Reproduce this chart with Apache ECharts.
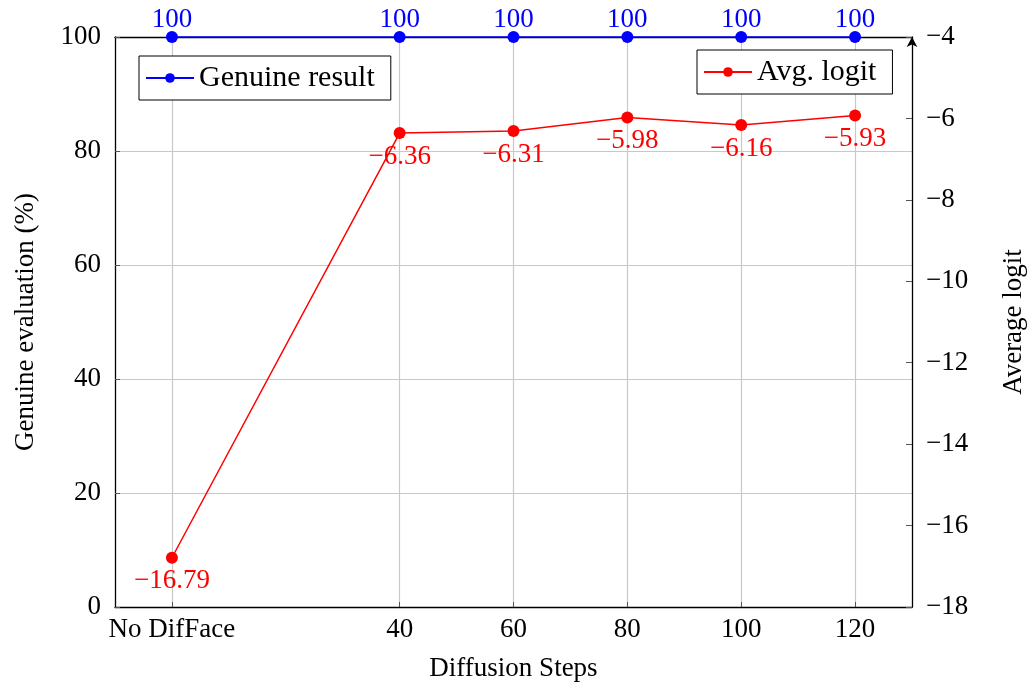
<!DOCTYPE html>
<html>
<head>
<meta charset="utf-8">
<script src="https://cdn.jsdelivr.net/npm/echarts@6/dist/echarts.min.js"></script>
<style>
  html, body { margin: 0; padding: 0; background: #fff; }
  #chart { width: 1032px; height: 686px; }
</style>
</head>
<body>
<div id="chart"></div>
<script>
const FONT = "Liberation Serif";

const steps = [0, 40, 60, 80, 100, 120];
const stepLabels = ["No DifFace", "40", "60", "80", "100", "120"];
const genuine = [100, 100, 100, 100, 100, 100];
const avgLogit = [-16.79, -6.36, -6.31, -5.98, -6.16, -5.93];

const minus = (v) => String(v).replace("-", "\u2212");

const option = {
  animation: false,
  textStyle: { fontFamily: FONT },
  grid: { left: 115, right: 120, top: 37, bottom: 79, outerBoundsMode: "none", containLabel: false },
  legend: [
    {
      data: ["Genuine result"],
      left: 139, top: 56,
      itemWidth: 48, itemHeight: 12, itemGap: 8,
      padding: [7, 16, 7, 6],
      borderColor: "#000", borderWidth: 1, backgroundColor: "#fff",
      textStyle: { fontFamily: FONT, fontSize: 30, color: "#000" },
    },
    {
      data: ["Avg. logit"],
      left: 697, top: 50,
      itemWidth: 48, itemHeight: 12,
      padding: [7, 16, 7, 6],
      borderColor: "#000", borderWidth: 1, backgroundColor: "#fff",
      textStyle: { fontFamily: FONT, fontSize: 30, color: "#000" },
    },
  ],
  xAxis: [
    {
      type: "value",
      min: -10, max: 130,
      name: "Diffusion Steps",
      nameLocation: "middle",
      nameGap: 48,
      nameTextStyle: { fontFamily: FONT, fontSize: 27, color: "#000" },
      axisLine: { onZero: false, lineStyle: { color: "#000", width: 1.3 } },
      axisTick: { customValues: steps, inside: true, length: 5, lineStyle: { color: "#555" } },
      axisLabel: {
        customValues: steps,
        margin: 9,
        fontFamily: FONT, fontSize: 27, color: "#000",
        formatter: (v) => stepLabels[steps.indexOf(v)],
      },
      splitLine: { show: true, lineStyle: { color: "#c8c8c8", width: 1.2 } },
    },
    {
      type: "value",
      position: "top",
      min: -10, max: 130,
      axisLine: { onZero: false, lineStyle: { color: "#000", width: 1.3 } },
      axisTick: { show: false },
      axisLabel: { show: false },
      splitLine: { show: false },
    },
  ],
  yAxis: [
    {
      type: "value",
      min: 0, max: 100, interval: 20,
      name: "Genuine evaluation (%)",
      nameLocation: "middle",
      nameGap: 76,
      nameTextStyle: { fontFamily: FONT, fontSize: 27, color: "#000" },
      axisLine: { show: true, onZero: false, lineStyle: { color: "#000", width: 1.3 } },
      axisTick: { show: true, inside: true, length: 5, lineStyle: { color: "#555" } },
      axisLabel: { fontFamily: FONT, fontSize: 27, color: "#000", margin: 14 },
      splitLine: { show: true, lineStyle: { color: "#c8c8c8", width: 1.2 } },
    },
    {
      type: "value",
      position: "right",
      min: -18, max: -4, interval: 2,
      name: "Average logit",
      nameLocation: "middle",
      nameGap: 88,
      nameRotate: 90,
      nameTextStyle: { fontFamily: FONT, fontSize: 27, color: "#000" },
      axisLine: {
        show: true,
        onZero: false,
        symbol: ["none", "arrow"],
        symbolSize: [8, 10],
        lineStyle: { color: "#000", width: 1.3 },
      },
      axisTick: { show: true, inside: true, length: 6, lineStyle: { color: "#555" } },
      axisLabel: {
        fontFamily: FONT, fontSize: 27, color: "#000", margin: 14,
        formatter: (v) => minus(v),
      },
      splitLine: { show: false },
    },
  ],
  series: [
    {
      name: "Genuine result",
      type: "line",
      xAxisIndex: 0,
      yAxisIndex: 0,
      clip: false,
      data: steps.map((s, i) => [s, genuine[i]]),
      symbol: "circle",
      symbolSize: 12,
      color: "#0000ff",
      lineStyle: { color: "#0000ff", width: 1.5 },
      label: {
        show: true,
        position: "top",
        distance: 0,
        offset: [0, 2],
        fontFamily: FONT, fontSize: 27, color: "#0000ff",
        formatter: (p) => String(p.value[1]),
      },
      z: 5,
    },
    {
      name: "Avg. logit",
      type: "line",
      xAxisIndex: 0,
      yAxisIndex: 1,
      clip: false,
      data: steps.map((s, i) => [s, avgLogit[i]]),
      symbol: "circle",
      symbolSize: 12,
      color: "#ff0000",
      lineStyle: { color: "#ff0000", width: 1.5 },
      label: {
        show: true,
        position: "bottom",
        distance: 4,
        fontFamily: FONT, fontSize: 27, color: "#ff0000",
        formatter: (p) => minus(p.value[1].toFixed(2)),
      },
      z: 4,
    },
  ],
};

const chart = echarts.init(document.getElementById("chart"), null, { renderer: "canvas" });
chart.setOption(option);
</script>
</body>
</html>
